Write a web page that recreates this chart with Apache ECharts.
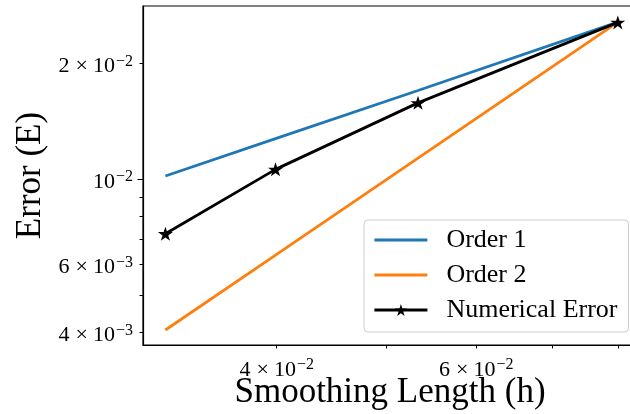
<!DOCTYPE html>
<html>
<head>
<meta charset="utf-8">
<script src="https://cdn.jsdelivr.net/npm/echarts@6/dist/echarts.min.js"></script>
<style>
html,body{margin:0;padding:0;background:#fff;}
#chart{width:630px;height:414px;}
</style>
</head>
<body>
<div id="chart"></div>
<script>
// ---- data ----
const seriesNames = ['Order 1', 'Order 2', 'Numerical Error'];
const h = [0.0319, 0.0399, 0.0533, 0.08];
const order1 = [0.0102, 0.01275, 0.0170, 0.0256];
const order2 = [0.00406, 0.00635, 0.01135, 0.0256];
const numErr = [0.00722, 0.01061, 0.01579, 0.02555];
const xTickLabels = [0.04, 0.06];
const xTicks = [0.04, 0.05, 0.06, 0.07, 0.08];
const yTickLabels = [0.004, 0.006, 0.01, 0.02];
const yMinorTicks = [0.004, 0.005, 0.006, 0.007, 0.008, 0.009, 0.02];
const yMajorTicks = [0.01];

const FONT = '"Liberation Serif", "DejaVu Serif", serif';
const STAR = 'path://M50,0 L61.2,34.5 L97.6,34.5 L68.2,55.9 L79.4,90.5 L50,69.1 L20.6,90.5 L31.8,55.9 L2.4,34.5 L38.8,34.5 Z';

function sciLabel(v) {
  const e = Math.floor(Math.log10(v) + 1e-9);
  const m = Math.round(v / Math.pow(10, e));
  const ex = '\u2212' + (-e);
  if (m === 1) return '{b|10}{s|' + ex + '}';
  return '{b|' + m + '}{x|\u00d7}{b|10}{s|' + ex + '}';
}
const richStyle = {
  b: { fontFamily: FONT, fontSize: 22, lineHeight: 26, color: '#000' },
  x: { fontFamily: FONT, fontSize: 22, lineHeight: 26, color: '#000', padding: [0, 5, 0, 6] },
  s: { fontFamily: FONT, fontSize: 16, lineHeight: 16, color: '#000', verticalAlign: 'top', padding: [0, 0, 0, 1] }
};

function pairs(ys) { return h.map((x, i) => [x, ys[i]]); }

const chart = echarts.init(document.getElementById('chart'), null, { renderer: 'canvas' });
chart.setOption({
  animation: false,
  backgroundColor: '#fff',
  grid: {
    left: 143, right: -7, top: 6, bottom: 69,
    containLabel: false, outerBoundsMode: 'none',
    show: true, borderColor: '#000', borderWidth: 1.2, backgroundColor: '#fff'
  },
  xAxis: {
    type: 'log', logBase: 10, min: 0.03048, max: 0.08318,
    name: 'Smoothing Length (h)', nameLocation: 'middle', nameGap: 30, nameMoveOverlap: false,
    nameTextStyle: { fontFamily: FONT, fontSize: 35, color: '#000', verticalAlign: 'top' },
    axisLine: { show: true, lineStyle: { color: '#000', width: 1.2 } },
    axisTick: { show: true, customValues: xTicks, length: 3.5, lineStyle: { color: '#000', width: 1 } },
    axisLabel: { customValues: xTickLabels, margin: 12, formatter: sciLabel, rich: richStyle },
    splitLine: { show: false }, minorTick: { show: false }
  },
  yAxis: [{
    type: 'log', logBase: 10, min: 0.003712, max: 0.02818,
    name: 'Error (E)', nameLocation: 'middle', nameGap: 95, nameMoveOverlap: false,
    nameTextStyle: { fontFamily: FONT, fontSize: 35, color: '#000' },
    axisLine: { show: true, lineStyle: { color: '#000', width: 1.2 } },
    axisTick: { show: true, customValues: yMinorTicks, length: 3.5, lineStyle: { color: '#000', width: 1 } },
    axisLabel: { customValues: yTickLabels, margin: 10, padding: [6, 0, 0, 0], formatter: sciLabel, rich: richStyle },
    splitLine: { show: false }, minorTick: { show: false }
  }, {
    type: 'log', logBase: 10, min: 0.003712, max: 0.02818, position: 'left',
    axisLine: { show: false },
    axisTick: { show: true, customValues: yMajorTicks, length: 5.5, lineStyle: { color: '#000', width: 1 } },
    axisLabel: { show: false },
    splitLine: { show: false }
  }],
  legend: {
    orient: 'vertical', left: 364, top: 220,
    data: [
      { name: seriesNames[0], itemStyle: { color: 'rgba(0,0,0,0)', borderWidth: 0 } },
      { name: seriesNames[1], itemStyle: { color: 'rgba(0,0,0,0)', borderWidth: 0 } },
      { name: seriesNames[2] }
    ],
    itemWidth: 53, itemHeight: 15, itemGap: 9,
    padding: [7, 11, 9, 9],
    backgroundColor: 'rgba(255,255,255,0.8)',
    borderColor: '#cccccc', borderWidth: 1, borderRadius: 4,
    lineStyle: { width: 2.8 },
    textStyle: { fontFamily: FONT, fontSize: 26, lineHeight: 26, color: '#000', padding: [0, 0, 0, 14] }
  },
  series: [{
    name: seriesNames[0], type: 'line', data: pairs(order1),
    symbol: 'none', lineStyle: { color: '#1f77b4', width: 2.8 }, itemStyle: { color: '#1f77b4' }
  }, {
    name: seriesNames[1], type: 'line', data: pairs(order2),
    symbol: 'none', lineStyle: { color: '#ff7f0e', width: 2.8 }, itemStyle: { color: '#ff7f0e' }
  }, {
    name: seriesNames[2], type: 'line', data: pairs(numErr),
    symbol: STAR, symbolSize: [15, 14], showAllSymbol: true,
    lineStyle: { color: '#000', width: 2.8 }, itemStyle: { color: '#000' }
  }]
});
</script>
</body>
</html>
